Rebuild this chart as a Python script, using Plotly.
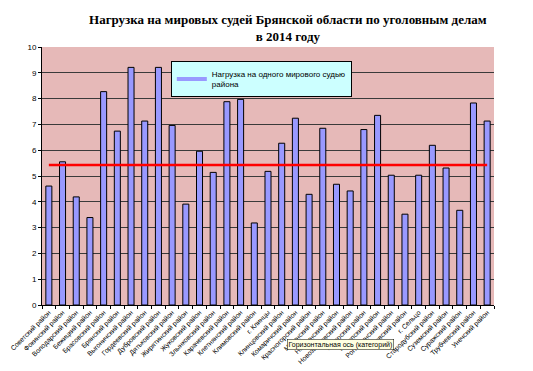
import plotly.graph_objects as go

categories = [
    "Советский район", "Фокинский район", "Володарский район", "Бежицкий район",
    "Брасовский район", "Брянский район", "Выгоничский район", "Гордеевский район",
    "Дубровский район", "Дятьковский район", "Жирятинский район", "Жуковский район",
    "Злынковский район", "Карачевский район", "Клетнянский район", "Климовский район",
    "г. Клинцы", "Клинцовский район", "Комаричский район", "Красногорский район",
    "Мглинский район", "Навлинский район", "Новозыбковский район", "Погарский район",
    "Почепский район", "Рогнединский район", "Севский район", "г. Сельцо",
    "Стародубский район", "Суземский район", "Суражский район", "Трубчевский район",
    "Унечский район",
]
load_per_judge = [
    4.61, 5.55, 4.19, 3.39, 8.27, 6.74, 9.21, 7.13, 9.21, 6.96, 3.91, 5.96,
    5.14, 7.88, 7.97, 3.18, 5.18, 6.27, 7.24, 4.29, 6.85, 4.68, 4.42, 6.80,
    7.35, 5.03, 3.52, 5.03, 6.19, 5.31, 3.67, 7.83, 7.13,
]
average_load = 5.43
series_name = "Нагрузка на одного мирового судью<br>района"
title_text = "<b>Нагрузка на мировых судей Брянской области по уголовным делам<br>в 2014 году</b>"
y_ticks = list(range(0, 11))

fig = go.Figure()
fig.add_trace(go.Bar(
    x=categories, y=load_per_judge, name=series_name, showlegend=False,
    marker=dict(color="#9999FF", line=dict(color="#000000", width=1)),
))
fig.add_trace(go.Scatter(
    x=categories, y=[average_load] * len(categories), mode="lines",
    line=dict(color="#FF0000", width=2.5), showlegend=False, hoverinfo="skip",
))
# legend proxy
fig.add_trace(go.Scatter(
    x=[None], y=[None], mode="lines", name=series_name,
    line=dict(color="#9999FF", width=4), showlegend=True,
))

fig.update_layout(
    width=533, height=371,
    margin=dict(l=42, r=39, t=47, b=66, autoexpand=False),
    paper_bgcolor="white", plot_bgcolor="#E6B9B8",
    bargap=0.56,
    font=dict(family="Liberation Sans, Arial, sans-serif", color="#000000"),
    title=dict(
        text=title_text, x=0.54, xanchor="center", y=0.935, yanchor="top",
        yref="container",
        font=dict(family="Liberation Serif, Times New Roman, serif", size=13, color="#000000"),
    ),
    legend=dict(
        x=0.285, y=0.945, xanchor="left", yanchor="top",
        bgcolor="#CCFFFF", bordercolor="#000000", borderwidth=1,
        font=dict(size=8), itemwidth=30, tracegroupgap=0,
    ),
    showlegend=True,
    xaxis=dict(
        type="category", tickangle=-45, tickfont=dict(size=6.8), automargin=False,
        showline=True, linecolor="#000000", linewidth=1,
        ticks="outside", ticklen=3, tickcolor="#000000", tickson="boundaries",
        showgrid=False,
    ),
    yaxis=dict(
        range=[0, 10], tickvals=y_ticks, tickfont=dict(size=8), automargin=False,
        showline=True, linecolor="#000000", linewidth=1,
        ticks="outside", ticklen=3, tickcolor="#000000",
        showgrid=True, gridcolor="#3a3a3a", gridwidth=1, zeroline=False,
    ),
    annotations=[dict(
        text="Горизонтальная ось (категорий)", xref="paper", yref="paper",
        x=0.66, y=-0.155, xanchor="center", yanchor="middle", showarrow=False,
        font=dict(size=7, color="#000000"),
        bgcolor="#FFFFE1", bordercolor="#000000", borderwidth=0.5, borderpad=1,
    )],
)

fig.write_html(
    "out.html",
    config={"displayModeBar": False},
    post_script="document.body.style.margin='0';document.body.style.overflow='hidden';",
)
